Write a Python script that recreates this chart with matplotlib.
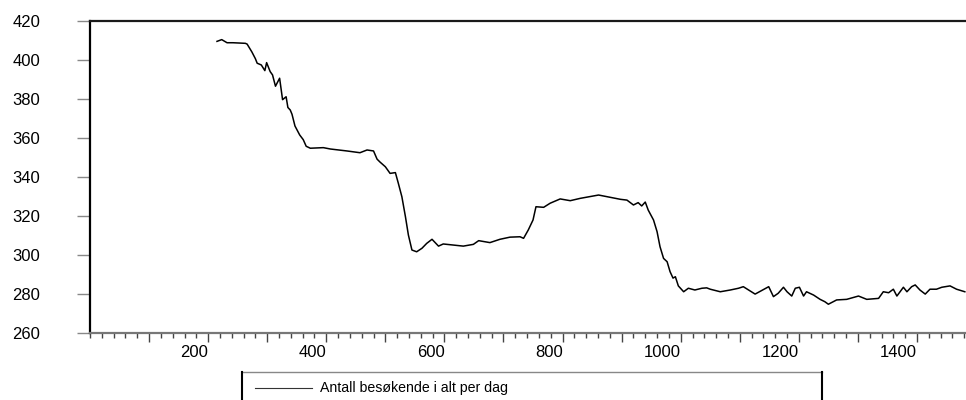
"""Plot daily visitor totals as a line chart with an EViews-like frame."""

from __future__ import annotations

import matplotlib

matplotlib.use("Agg")
import matplotlib.pyplot as plt
from matplotlib.lines import Line2D
from matplotlib.ticker import FixedLocator, MultipleLocator


SERIES_LABEL = "Antall besøkende i alt per dag"

OBSERVATIONS = [
    215, 223, 232, 242, 263, 266, 274, 280, 283, 290, 296, 299, 305, 309, 314, 321,
    326, 332, 335, 339, 342, 347, 355, 361, 366, 373, 395, 407, 435, 457, 469, 480,
    486, 491, 500, 508, 517, 522, 528, 534, 539, 545, 553, 562, 570, 579, 590, 598,
    632, 649, 658, 677, 694, 711, 728, 734, 742, 750, 755, 768, 779, 796, 813, 830,
    861, 881, 898, 909, 920, 928, 934, 940, 945, 954, 960, 965, 971, 977, 982, 987,
    991, 996, 1005, 1013, 1024, 1036, 1044, 1050, 1067, 1084, 1098, 1106, 1126, 1149,
    1157, 1165, 1174, 1180, 1188, 1194, 1201, 1208, 1213, 1225, 1236, 1244, 1250, 1264,
    1281, 1301, 1315, 1335, 1343, 1352, 1360, 1366, 1377, 1383, 1391, 1397, 1405, 1414,
    1422, 1433, 1442, 1456, 1467, 1481,
]

VISITORS = [
    409.4, 410.3, 408.7, 408.7, 408.4, 408.0, 404.0, 400.5, 398.2, 397.3, 394.4, 398.5,
    393.9, 392.2, 386.4, 390.5, 379.5, 381.0, 375.5, 374.2, 372.0, 366.0, 361.4, 359.0,
    355.6, 354.6, 354.9, 354.2, 353.2, 352.3, 353.7, 353.2, 349.0, 347.5, 345.1, 341.7,
    342.1, 336.6, 329.7, 319.5, 310.1, 302.4, 301.5, 303.3, 305.8, 307.9, 304.4, 305.5,
    304.4, 305.3, 307.2, 306.2, 307.9, 309.0, 309.2, 308.4, 312.7, 317.8, 324.6, 324.3,
    326.4, 328.6, 327.7, 328.9, 330.6, 329.4, 328.4, 328.0, 325.5, 326.7, 325.0, 327.0,
    322.9, 317.8, 311.8, 304.1, 298.1, 296.4, 291.3, 288.0, 288.7, 284.0, 281.0, 282.8,
    281.9, 282.8, 283.0, 282.3, 281.0, 281.9, 282.8, 283.6, 279.8, 283.6, 278.5, 280.2,
    283.3, 281.0, 278.8, 282.8, 283.3, 278.8, 281.0, 279.3, 277.1, 275.9, 274.6, 276.8,
    277.1, 278.8, 277.1, 277.6, 281.0, 280.5, 282.3, 278.8, 283.3, 281.0, 283.6, 284.5,
    281.9, 279.8, 282.3, 282.3, 283.3, 284.0, 282.3, 281.0,
]

Y_TICKS = [260, 280, 300, 320, 340, 360, 380, 400, 420]
X_MAJOR = [100, 200, 300, 400, 500, 600, 700, 800, 900, 1000, 1100, 1200, 1300, 1400]
X_LABELED = [200, 400, 600, 800, 1000, 1200, 1400]

FIG_W, FIG_H = 966, 400


def _px(x: float, y: float) -> tuple[float, float]:
    """Convert pixel coordinates (top-left origin) to figure fractions."""
    return x / FIG_W, 1 - y / FIG_H


def draw_chart(path: str = "out.png") -> None:
    plt.rcParams["font.family"] = ["Liberation Sans", "DejaVu Sans"]
    fig = plt.figure(figsize=(FIG_W / 100, FIG_H / 100), dpi=100)
    left, top = _px(90, 20.7)
    _, bottom = _px(0, 332.7)
    ax = fig.add_axes([left, bottom, 1 - left, top - bottom])

    ax.plot(OBSERVATIONS, VISITORS, color="black", linewidth=1.1)

    ax.set_xlim(0, 1483)
    ax.set_ylim(260, 420)

    ax.spines["right"].set_visible(False)
    ax.spines["left"].set_linewidth(1.6)
    ax.spines["left"].set_color("black")
    ax.spines["top"].set_linewidth(1.6)
    ax.spines["top"].set_color("#1a1a1a")
    ax.spines["bottom"].set_linewidth(1.6)
    ax.spines["bottom"].set_color("#777777")

    ax.set_yticks(Y_TICKS)
    ax.tick_params(axis="y", direction="out", length=9.4, width=1.0, color="#888888",
                   pad=26.5, labelsize=12, labelcolor="black")

    ax.xaxis.set_major_locator(FixedLocator(X_MAJOR))
    ax.set_xticklabels([str(v) if v in X_LABELED else "" for v in X_MAJOR])
    ax.xaxis.set_minor_locator(MultipleLocator(20))
    ax.tick_params(axis="x", which="major", direction="out", length=6.2, width=1.0,
                   color="#444444", pad=2.5, labelsize=12)
    ax.tick_params(axis="x", which="minor", direction="out", length=3.4, width=1.0,
                   color="#444444")
    for label in ax.get_xticklabels():
        label.set_horizontalalignment("right")

    # legend box, running off the lower edge
    x0, y0 = _px(242, 372)
    x1, y1 = _px(822, 402)
    fig.add_artist(Line2D([x0, x1], [y0, y0], transform=fig.transFigure,
                          color="#888888", linewidth=1.0))
    fig.add_artist(Line2D([x0, x0], [y0, y1], transform=fig.transFigure,
                          color="black", linewidth=1.5))
    fig.add_artist(Line2D([x1, x1], [y0, y1], transform=fig.transFigure,
                          color="black", linewidth=1.5))
    hx0, hy = _px(255, 388)
    hx1, _ = _px(312, 388)
    fig.add_artist(Line2D([hx0, hx1], [hy, hy], transform=fig.transFigure,
                          color="#333333", linewidth=0.8))
    tx, ty = _px(320, 388)
    fig.text(tx, ty, SERIES_LABEL, ha="left", va="center", fontsize=10.2)

    fig.savefig(path, dpi=100)
    plt.close(fig)


if __name__ == "__main__":
    draw_chart()
